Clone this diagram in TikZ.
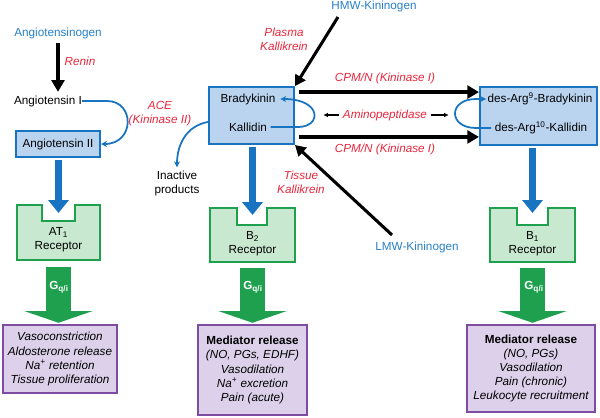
\documentclass[tikz,border=0pt]{standalone}
\usepackage{fontspec}
\setmainfont{Liberation Sans}
\usepackage{tikz}
\usetikzlibrary{arrows.meta}
\definecolor{kblue}{RGB}{38,128,200}
\definecolor{kred}{RGB}{232,38,60}
\definecolor{boxblue}{RGB}{186,212,240}
\definecolor{edgeblue}{RGB}{24,116,192}
\definecolor{mint}{RGB}{200,232,208}
\definecolor{leaf}{RGB}{30,160,78}
\definecolor{lilac}{RGB}{220,208,234}
\definecolor{plum}{RGB}{126,76,160}

\begin{document}
\begin{tikzpicture}[x=0.03cm,y=-0.03cm,
  every node/.style={font=\fontsize{10}{12}\selectfont,inner sep=0pt,align=center},
  enzyme/.style={text=kred,font=\fontsize{10}{12}\selectfont\itshape},
  source/.style={text=kblue},
  pepbox/.style={draw=edgeblue,fill=boxblue,line width=1.7pt},
  receptor/.style={draw=leaf,fill=mint,line width=1.7pt},
  effect/.style={draw=plum,fill=lilac,line width=1.8pt,font=\fontsize{10}{12}\selectfont\itshape},
  conv/.style={-{Triangle[width=11pt,length=10pt]},line width=3.2pt},
  feed/.style={-{Triangle[width=10pt,length=9pt]},line width=2.6pt},
  small/.style={-{Latex[length=4pt,width=4pt]},line width=1pt},
  loop/.style={-{Stealth[length=5pt,width=5pt]},draw=edgeblue,line width=1.5pt},
  bind/.style={-{Triangle[width=17pt,length=11pt]},draw=edgeblue,line width=6.8pt},
  signal/.style={-{Triangle[width=58pt,length=10pt]},draw=leaf,line width=22pt},
  gprot/.style={text=white,font=\fontsize{10}{12}\selectfont\bfseries}]
\useasboundingbox (0,0) rectangle (600,417);

% angiotensin side
\node[source] (agt) at (58,33) {Angiotensinogen};
\node (ang1) at (48,101) {Angiotensin I};
\node[pepbox,minimum width=2.52cm,minimum height=0.78cm] (ang2) at (58,144) {Angiotensin II};
\draw[conv,shorten <=4pt,shorten >=3pt] (agt) -- (agt |- ang1.north);
\node[enzyme] (renin) at (80,61) {Renin};
\draw[loop] (ang1.east) -- (107,101) .. controls (135,101) and (135,144) .. (ang2.east);
\node[enzyme] (ace) at (160,114) {ACE\\(Kininase II)};

% kinin box
\node[pepbox,minimum width=2.55cm,minimum height=1.71cm] (kin) at (251.5,115.5) {};
\node (bk) at (248,99) {Bradykinin};
\node (kd) at (248,127) {Kallidin};
\draw[loop] ([xshift=3pt]kd.east) -- (298,127) .. controls (322,127) and (322,99) .. ([xshift=4pt]bk.east);
\node (inact) at (177,183.5) {Inactive\\products};
\draw[loop,shorten >=3pt] ([yshift=-5.5pt]kin.west) .. controls (186,126) and (177,145) .. (inact.north);

% kininogens
\node[source] (hmw) at (374,6) {HMW-Kininogen};
\coordinate (hmwfoot) at (338,17);
\draw[feed] (hmwfoot) -- (kin.north east);
\node[enzyme] (pk) at (284,39) {Plasma\\Kallikrein};
\node[source] (lmw) at (417,247) {LMW-Kininogen};
\coordinate (lmwfoot) at (392,235);
\draw[feed] (lmwfoot) -- (kin.south east);
\node[enzyme] (tk) at (301,182) {Tissue\\Kallikrein};

% des-Arg box
\node[pepbox,minimum width=3.51cm,minimum height=1.74cm] (des) at (538.5,116) {};
\node (d9) at (540,99) {des-Arg\textsuperscript{9}-Bradykinin};
\node (d10) at (541,128) {des-Arg\textsuperscript{10}-Kallidin};
\draw[loop] ([xshift=-3pt]d10.west) -- (476,128) .. controls (448,128) and (448,99) .. (476,99) -- ([xshift=-1pt]d9.west);
\draw[conv,shorten <=3pt] ([yshift=20pt]kin.east) -- ([yshift=20pt]kin.east -| des.west);
\draw[conv,shorten <=3pt] ([yshift=-18.3pt]kin.east) -- ([yshift=-18.3pt]kin.east -| des.west);
\node[enzyme] (cpm1) at (385,78) {CPM/N (Kininase I)};
\node[enzyme] (cpm2) at (385,149) {CPM/N (Kininase I)};
\node[enzyme] (amp) at (385,115) {Aminopeptidase};
\draw[small] ([xshift=-3pt]amp.west) -- ++(-16,0);
\draw[small] ([xshift=3pt]amp.east) -- ++(18,0);

% receptors
\draw[receptor] (17,205) -- (42,205) -- (42,221) -- (75,221) -- (75,205) -- (100,205) -- (100,260) -- (17,260) -- cycle;
\node (at1) at (58.5,240) {AT\textsubscript{1}\\Receptor};
\coordinate (at1in) at (58.5,213);
\coordinate (at1out) at (58.5,260);
\draw[receptor] (210,208) -- (237,208) -- (237,225) -- (267,225) -- (267,208) -- (295,208) -- (295,262) -- (210,262) -- cycle;
\node (b2) at (252.5,244) {B\textsubscript{2}\\Receptor};
\coordinate (b2in) at (252.5,215);
\coordinate (b2out) at (252.5,262);
\draw[receptor] (490,208) -- (517,208) -- (517,225) -- (548,225) -- (548,208) -- (575,208) -- (575,262) -- (490,262) -- cycle;
\node (b1) at (532.5,244) {B\textsubscript{1}\\Receptor};
\coordinate (b1in) at (532.5,213);
\coordinate (b1out) at (532.5,262);
\draw[bind,shorten <=1.5pt] (ang2.south -| at1in) -- (at1in);
\draw[bind,shorten <=1.5pt] (kin.south -| b2in) -- (b2in);
\draw[bind,shorten <=1.5pt] (des.south -| b1in) -- (b1in);

% effects
\node[effect,minimum width=3.42cm,minimum height=2.04cm] (eff1) at (60,359)
  {Vasoconstriction\\Aldosterone release\\Na\textsuperscript{+} retention\\Tissue proliferation};
\node[effect,minimum width=3.27cm,minimum height=2.7cm] (eff2) at (252.5,370)
  {\textbf{\upshape Mediator release}\\(NO, PGs, EDHF)\\Vasodilation\\Na\textsuperscript{+} excretion\\Pain (acute)};
\node[effect,minimum width=3.84cm,minimum height=2.61cm] (eff3) at (531,368.5)
  {\textbf{\upshape Mediator release}\\(NO, PGs)\\Vasodilation\\Pain (chronic)\\Leukocyte recruitment};
\draw[signal,shorten <=6pt,shorten >=1pt] (at1out) -- (eff1.north -| at1out);
\draw[signal,shorten <=5pt,shorten >=1pt] (b2out) -- (eff2.north -| b2out);
\draw[signal,shorten <=5pt,shorten >=1pt] (b1out) -- (eff3.north -| b1out);
\node[gprot] (g1) at (59,287) {G\textsubscript{q/i}};
\node[gprot] (g2) at (253,287) {G\textsubscript{q/i}};
\node[gprot] (g3) at (534,287) {G\textsubscript{q/i}};
\end{tikzpicture}
\end{document}
